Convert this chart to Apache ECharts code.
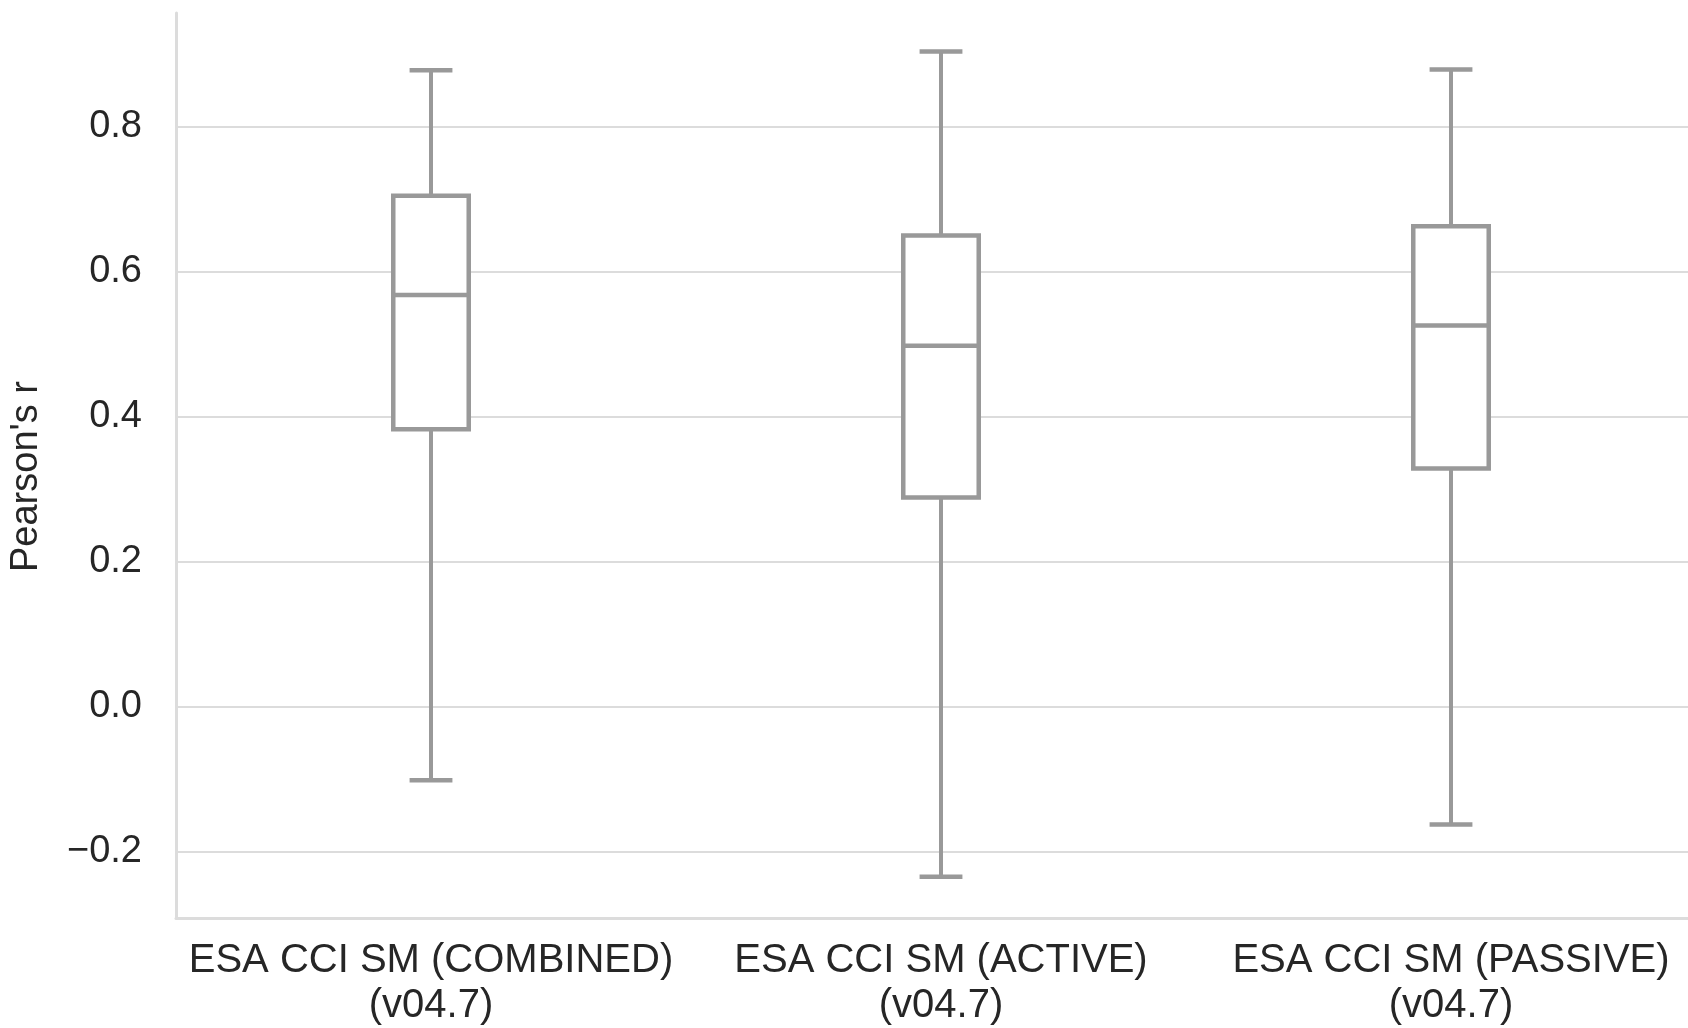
<!DOCTYPE html>
<html>
<head>
    <meta charset="utf-8">
    <title>Pearson's r boxplot</title>
    <script src="https://cdn.jsdelivr.net/npm/echarts@6/dist/echarts.min.js"></script>
</head>
<body style="margin:0;background:#fff;overflow:hidden;">
    <!-- a bit wider than the window: the last category band runs past the right edge -->
    <div id="main" style="width: 1720px;height:1028px;"></div>
    <script type="text/javascript">
        // data
        var categories = ['ESA CCI SM (COMBINED)\n(v04.7)', 'ESA CCI SM (ACTIVE)\n(v04.7)', 'ESA CCI SM (PASSIVE)\n(v04.7)'];
        var whiskerLow = [-0.101, -0.234, -0.162];
        var q1 = [0.383, 0.289, 0.329];
        var median = [0.568, 0.498, 0.526];
        var q3 = [0.705, 0.650, 0.663];
        var whiskerHigh = [0.878, 0.904, 0.879];

        var rows = categories.map(function (c, i) {
            return [i, whiskerLow[i], q1[i], median[i], q3[i], whiskerHigh[i]];
        });

        var boxColor = '#999999';
        var gridColor = '#dcdcdc';
        var font = "'Liberation Sans', Arial, sans-serif";

        function renderBox(params, api) {
            var i = api.value(0);
            var lo = api.coord([i, api.value(1)]);
            var b1 = api.coord([i, api.value(2)]);
            var md = api.coord([i, api.value(3)]);
            var b3 = api.coord([i, api.value(4)]);
            var hi = api.coord([i, api.value(5)]);
            var band = api.size([1, 0])[0];
            var bw = band * 0.148, cw = band * 0.084;
            var x = lo[0];
            var st = { stroke: boxColor, lineWidth: 4.5, fill: null };
            var wst = { stroke: boxColor, lineWidth: 4, fill: null };
            return {
                type: 'group',
                children: [
                    { type: 'line', shape: { x1: x, y1: b1[1], x2: x, y2: lo[1] }, style: wst },
                    { type: 'line', shape: { x1: x, y1: b3[1], x2: x, y2: hi[1] }, style: wst },
                    { type: 'line', shape: { x1: x - cw / 2, y1: lo[1], x2: x + cw / 2, y2: lo[1] }, style: st },
                    { type: 'line', shape: { x1: x - cw / 2, y1: hi[1], x2: x + cw / 2, y2: hi[1] }, style: st },
                    { type: 'rect', shape: { x: x - bw / 2, y: b3[1], width: bw, height: b1[1] - b3[1] },
                      style: { stroke: boxColor, lineWidth: 4.5, fill: '#ffffff' } },
                    { type: 'line', shape: { x1: x - bw / 2, y1: md[1], x2: x + bw / 2, y2: md[1] }, style: st }
                ]
            };
        }

        var myChart = echarts.init(document.getElementById('main'));

        var option = {
            backgroundColor: '#ffffff',
            animation: false,
            grid: { left: 172, top: 13, width: 1534, height: 909, containLabel: false },
            xAxis: {
                type: 'category',
                data: categories,
                axisTick: { show: false },
                axisLine: { show: true, onZero: false, lineStyle: { color: gridColor, width: 3 } },
                axisLabel: {
                    interval: 0, hideOverlap: false,
                    color: '#262626', fontFamily: font, fontSize: 40, lineHeight: 45, margin: 20
                },
                splitLine: { show: false }
            },
            yAxis: {
                type: 'value',
                min: -0.291,
                max: 0.957,
                splitNumber: 6,
                name: "Pearson's r",
                nameLocation: 'middle',
                nameRotate: 90,
                nameGap: 130,
                nameTextStyle: { color: '#262626', fontFamily: font, fontSize: 38, padding: [0, 22, 0, 0] },
                axisTick: { show: false },
                axisLine: { show: true, lineStyle: { color: gridColor, width: 3 } },
                axisLabel: {
                    color: '#262626', fontFamily: font, fontSize: 38, margin: 34,
                    showMinLabel: false, showMaxLabel: false,
                    formatter: function (v) { return v.toFixed(1).replace('-', '\u2212'); }
                },
                splitLine: { show: true, showMinLine: false, showMaxLine: false, lineStyle: { color: gridColor, width: 2 } }
            },
            series: [{
                type: 'custom',
                renderItem: renderBox,
                encode: { x: 0, y: [1, 2, 3, 4, 5] },
                data: rows,
                z: 3
            }]
        };

        myChart.setOption(option);
    </script>
</body>
</html>
